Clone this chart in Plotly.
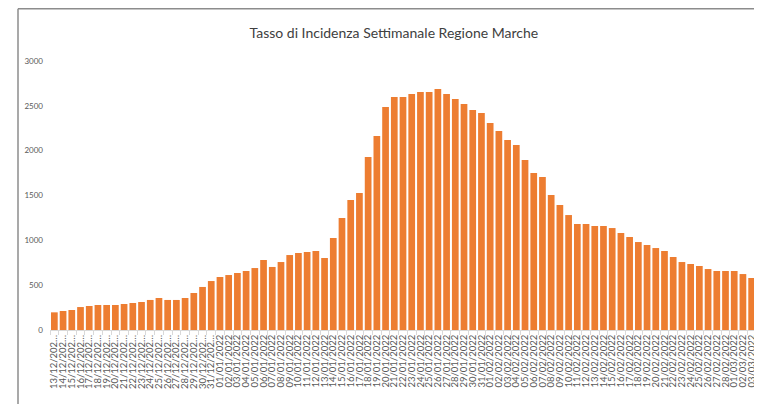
import datetime as dt
import plotly.graph_objects as go

title_text = "Tasso di Incidenza Settimanale Regione Marche"

start = dt.date(2021, 12, 13)
values = [197, 212, 223, 256, 268, 279, 279, 279, 290, 301,
          312, 335, 357, 335, 335, 357, 413, 480, 546, 591,
          613, 636, 658, 691, 781, 703, 758, 836, 859, 870,
          881, 803, 1026, 1249, 1450, 1528, 1929, 2163, 2487, 2598,
          2598, 2632, 2654, 2654, 2687, 2632, 2576, 2520, 2453, 2420,
          2308, 2219, 2119, 2063, 1896, 1751, 1706, 1505, 1394, 1282,
          1182, 1182, 1160, 1160, 1137, 1082, 1037, 981, 948, 914,
          881, 814, 758, 736, 714, 680, 658, 658, 658, 624, 580]

dates = [start + dt.timedelta(days=i) for i in range(len(values))]
# labels as shown (2021 labels appear truncated in the reference)
labels = []
for d in dates:
    s = d.strftime("%d/%m/%Y")
    if d.year == 2021:
        s = s[:-1] + "…"
    labels.append(s)

y_ticks = [0, 500, 1000, 1500, 2000, 2500, 3000]

fig = go.Figure(go.Bar(
    x=labels, y=values,
    marker=dict(color="#ED7D31", line=dict(width=0)),
))

# page body has an 8px margin, so the figure is sized/offset accordingly
FW, FH = 754, 396
ML, MR, MT, MB = 42, 6, 53, 74
W_PLOT = FW - ML - MR
H_PLOT = FH - MT - MB
TOP = 1 + (MT - 0.8) / H_PLOT

fig.update_layout(
    width=FW, height=FH,
    margin=dict(l=ML, r=MR, t=MT, b=MB, autoexpand=False),
    paper_bgcolor="white", plot_bgcolor="white",
    bargap=0.23,
    showlegend=False,
    title=dict(text=title_text, x=0.487, xanchor="center", xref="paper", y=1 - 25 / FH, yanchor="middle",
               yref="container",
               font=dict(family="Lato", size=14, color="#404040")),
    xaxis=dict(type="category", tickmode="array", tickvals=labels, ticktext=labels,
               tickangle=-90, tickfont=dict(family="Lato", size=9.5, color="#595959"),
               showline=True, linecolor="#d9d9d9", linewidth=1,
               ticks="outside", tickson="boundaries", ticklen=4, tickcolor="#d9d9d9",
               showgrid=False, automargin=False),
    yaxis=dict(range=[0, 3000], tickvals=y_ticks, ticktext=[str(v) for v in y_ticks],
               tickfont=dict(family="Lato", size=8, color="#595959"), ticklabelstandoff=6,
               showgrid=False, zeroline=False, showline=False, ticks="", automargin=False),
    shapes=[
        dict(type="line", xref="paper", yref="paper", x0=-32 / W_PLOT, x1=1 + 6 / W_PLOT,
             y0=TOP, y1=TOP,
             line=dict(color="#8c8c8c", width=1.5)),
        dict(type="line", xref="paper", yref="paper", x0=-32 / W_PLOT, x1=-32 / W_PLOT,
             y0=TOP, y1=-74 / H_PLOT,
             line=dict(color="#8c8c8c", width=1.5)),
    ],
)

fig.write_html("out.html")
